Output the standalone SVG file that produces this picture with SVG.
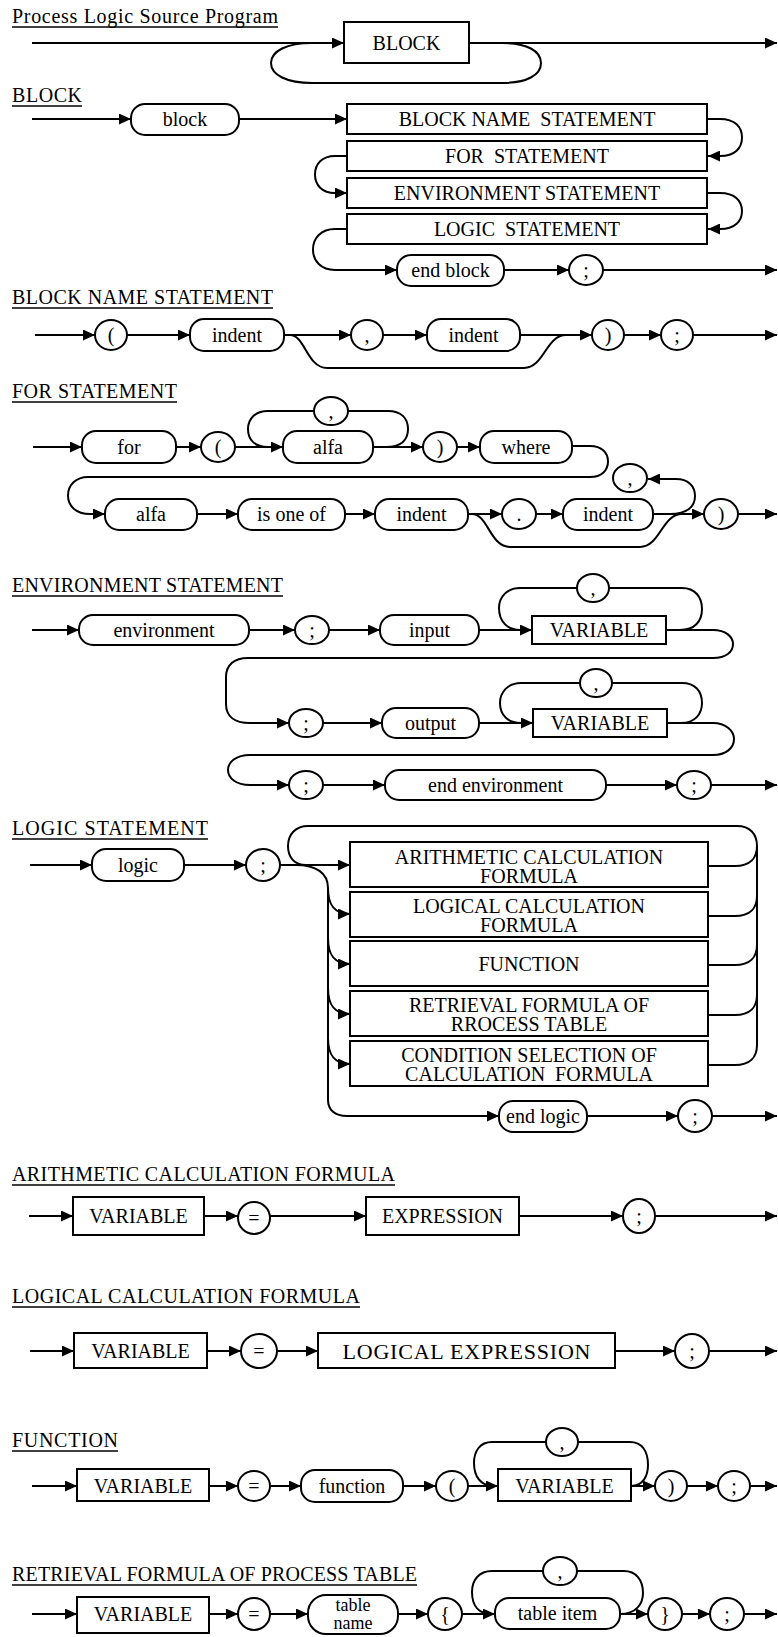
<svg xmlns="http://www.w3.org/2000/svg" width="778" height="1637" viewBox="0 0 778 1637">
<style>
  text { font-family: "Liberation Serif", "Times New Roman", serif; fill: #000; }
  .t { font-family: "Liberation Serif", "Times New Roman", serif; font-size: 20px; }
  .n { font-family: "Liberation Serif", "Times New Roman", serif; font-size: 20px; text-anchor: middle; }
  .sm { font-family: "Liberation Serif", "Times New Roman", serif; font-size: 18px; text-anchor: middle; }
  .c { font-family: "Liberation Serif", "Times New Roman", serif; font-size: 20px; text-anchor: middle; }
  .ul { stroke: #000; stroke-width: 1.5; }
  .ln { fill: none; stroke: #000; stroke-width: 2; }
  .a { marker-end: url(#ah); }
  .bx { fill: #fff; stroke: #000; stroke-width: 2; }
</style>
<defs>
  <marker id="ah" markerWidth="12" markerHeight="11" refX="12" refY="5.5" orient="auto" markerUnits="userSpaceOnUse">
    <path d="M0,0 L12,5.5 L0,11 z" fill="#000"/>
  </marker>
</defs>
<rect width="778" height="1637" fill="#fff"/>

<!-- section headings -->
<g id="headings">
  <text class="t" x="12" y="23" textLength="266" lengthAdjust="spacing">Process Logic Source Program</text>
  <line class="ul" x1="12" y1="27" x2="278" y2="27"/>
  <text class="t" x="12" y="102" textLength="70" lengthAdjust="spacing">BLOCK</text>
  <line class="ul" x1="12" y1="106" x2="82" y2="106"/>
  <text class="t" x="12" y="304" textLength="261" lengthAdjust="spacing">BLOCK NAME STATEMENT</text>
  <line class="ul" x1="12" y1="308" x2="273" y2="308"/>
  <text class="t" x="12" y="398" textLength="165" lengthAdjust="spacing">FOR STATEMENT</text>
  <line class="ul" x1="12" y1="402" x2="177" y2="402"/>
  <text class="t" x="12" y="592" textLength="271" lengthAdjust="spacing">ENVIRONMENT STATEMENT</text>
  <line class="ul" x1="12" y1="596" x2="283" y2="596"/>
  <text class="t" x="12" y="835" textLength="196" lengthAdjust="spacing">LOGIC STATEMENT</text>
  <line class="ul" x1="12" y1="839" x2="208" y2="839"/>
  <text class="t" x="12" y="1181" textLength="383" lengthAdjust="spacing">ARITHMETIC CALCULATION FORMULA</text>
  <line class="ul" x1="12" y1="1185" x2="395" y2="1185"/>
  <text class="t" x="12" y="1303" textLength="348" lengthAdjust="spacing">LOGICAL CALCULATION FORMULA</text>
  <line class="ul" x1="12" y1="1307" x2="360" y2="1307"/>
  <text class="t" x="12" y="1447" textLength="106" lengthAdjust="spacing">FUNCTION</text>
  <line class="ul" x1="12" y1="1451" x2="118" y2="1451"/>
  <text class="t" x="12" y="1581" textLength="405" lengthAdjust="spacing">RETRIEVAL FORMULA OF PROCESS TABLE</text>
  <line class="ul" x1="12" y1="1585" x2="417" y2="1585"/>
</g>

<!-- all connecting lines -->
<g id="connectors">
  <!-- program -->
  <path class="ln a" d="M32 43 H344"/>
  <path class="ln a" d="M469 43 H777"/>
  <path class="ln" d="M312 43 C287 43 271 51 271 63 C271 75 287 83 312 83 H502 C527 83 541 75 541 63 C541 51 527 43 502 43"/>
  <!-- block -->
  <path class="ln a" d="M32 119 H131"/>
  <path class="ln a" d="M239 119 H347"/>
  <path class="ln a" d="M707 119 H720 C735 119 742 127 742 137.5 C742 148 735 156 720 156 H708"/>
  <path class="ln a" d="M347 156 H335 C322 156 315 164 315 174.5 C315 185 322 193 335 193 H347"/>
  <path class="ln a" d="M707 193 H720 C735 193 742 201 742 211 C742 221 735 229 720 229 H708"/>
  <path class="ln a" d="M347 229 H335 C321 229 313 238 313 249.5 C313 261 321 270 335 270 H397"/>
  <path class="ln a" d="M504 270 H569"/>
  <path class="ln a" d="M603 270 H777"/>
  <!-- block name statement -->
  <path class="ln a" d="M35 335 H95"/>
  <path class="ln a" d="M127 335 H190"/>
  <path class="ln a" d="M284 335 H351"/>
  <path class="ln a" d="M383 335 H427"/>
  <path class="ln a" d="M520 335 H592"/>
  <path class="ln a" d="M624 335 H661"/>
  <path class="ln a" d="M693 335 H777"/>
  <path class="ln" d="M290 335 C305 335 307 368 327 368 H524 C544 368 546 335 566 335"/>
  <!-- for statement -->
  <path class="ln a" d="M33 447 H82"/>
  <path class="ln a" d="M176 447 H201"/>
  <path class="ln a" d="M235 447 H283"/>
  <path class="ln a" d="M373 447 H423"/>
  <path class="ln a" d="M457 447 H480"/>
  <path class="ln" d="M314 411 H268 C255 411 248 419 248 429 C248 440 255 447 268 447"/>
  <path class="ln" d="M386 447 C401 447 408 440 408 429 C408 418 401 411 388 411 H348"/>
  <path class="ln a" d="M572 446 H590 C602 446 608 453 608 461.5 C608 470 602 477 590 477 H88 C76 477 68 485 68 495.5 C68 506 76 514 90 514 H105"/>
  <path class="ln a" d="M197 514 H238"/>
  <path class="ln a" d="M345 514 H375"/>
  <path class="ln a" d="M468 514 H502"/>
  <path class="ln a" d="M536 514 H563"/>
  <path class="ln a" d="M653 514 H704"/>
  <path class="ln a" d="M738 514 H777"/>
  <path class="ln" d="M472 514 C488 514 490 547 510 547 H640 C660 547 662 514 682 514"/>
  <path class="ln a" d="M670 514 C688 514 695 506 695 496 C695 486 688 479 676 479 H648"/>
  <!-- environment statement -->
  <path class="ln a" d="M32 630 H79"/>
  <path class="ln a" d="M249 630 H295"/>
  <path class="ln a" d="M329 630 H380"/>
  <path class="ln a" d="M479 630 H532"/>
  <path class="ln" d="M577 588 H520 C507 588 499 597 499 608 C499 621 507 630 520 630"/>
  <path class="ln" d="M680 630 C695 630 702 621 702 609 C702 597 695 588 682 588 H609"/>
  <path class="ln a" d="M666 630 H713 C726 630 733 637 733 644 C733 652 726 658 713 658 H248 C234 658 226 665 226 677 V704 C226 716 234 723 250 723 H289"/>
  <path class="ln a" d="M323 723 H382"/>
  <path class="ln a" d="M479 723 H533"/>
  <path class="ln" d="M580 683 H521 C508 683 500 692 500 703 C500 715 508 723 521 723"/>
  <path class="ln" d="M681 723 C695 723 702 714 702 703 C702 691 695 683 682 683 H612"/>
  <path class="ln a" d="M667 723 H713 C726 723 734 731 734 739 C734 748 726 755 713 755 H250 C236 755 228 762 228 770 C228 778 236 785 250 785 H289"/>
  <path class="ln a" d="M323 785 H385"/>
  <path class="ln a" d="M606 785 H677"/>
  <path class="ln a" d="M711 785 H777"/>
  <!-- logic statement -->
  <path class="ln a" d="M30 865 H92"/>
  <path class="ln a" d="M184 865 H246"/>
  <path class="ln a" d="M280 865 H350"/>
  <path class="ln" d="M306 865 C294 865 288 857 288 846 C288 834 296 826 308 826 H737 C750 826 757 834 757 846 V1046"/>
  <path class="ln" d="M708 866 H735 C750 866 757 858 757 846"/>
  <path class="ln" d="M708 916 H735 C750 916 757 908 757 896"/>
  <path class="ln" d="M708 965 H735 C750 965 757 957 757 945"/>
  <path class="ln" d="M708 1015 H735 C750 1015 757 1007 757 995"/>
  <path class="ln" d="M708 1065 H735 C750 1065 757 1057 757 1045"/>
  <path class="ln a" d="M296 865 C316 865 328 873 328 888 V1100 C328 1110 335 1116 347 1116 H499"/>
  <path class="ln a" d="M328 888 C328 906 335 914 350 914"/>
  <path class="ln a" d="M328 938 C328 956 335 964 350 964"/>
  <path class="ln a" d="M328 988 C328 1006 335 1014 350 1014"/>
  <path class="ln a" d="M328 1038 C328 1056 335 1064 350 1064"/>
  <path class="ln a" d="M587 1116 H678"/>
  <path class="ln a" d="M712 1116 H777"/>
  <!-- arithmetic calculation formula -->
  <path class="ln a" d="M29 1216 H73"/>
  <path class="ln a" d="M204 1216 H238"/>
  <path class="ln a" d="M270 1216 H366"/>
  <path class="ln a" d="M519 1216 H623"/>
  <path class="ln a" d="M655 1216 H777"/>
  <!-- logical calculation formula -->
  <path class="ln a" d="M30 1351 H74"/>
  <path class="ln a" d="M207 1351 H241"/>
  <path class="ln a" d="M277 1351 H318"/>
  <path class="ln a" d="M615 1351 H675"/>
  <path class="ln a" d="M709 1351 H777"/>
  <!-- function -->
  <path class="ln a" d="M32 1486 H77"/>
  <path class="ln a" d="M209 1486 H238"/>
  <path class="ln a" d="M270 1486 H301"/>
  <path class="ln a" d="M403 1486 H436"/>
  <path class="ln a" d="M468 1486 H498"/>
  <path class="ln" d="M546 1442 H492 C480 1442 474 1451 474 1463 C474 1477 481 1486 494 1486"/>
  <path class="ln" d="M631 1486 C643 1486 648 1476 648 1465 C648 1451 642 1442 630 1442 H578"/>
  <path class="ln a" d="M631 1486 H655"/>
  <path class="ln a" d="M687 1486 H718"/>
  <path class="ln a" d="M750 1486 H777"/>
  <!-- retrieval formula of process table -->
  <path class="ln a" d="M32 1614 H77"/>
  <path class="ln a" d="M209 1614 H238"/>
  <path class="ln a" d="M270 1614 H308"/>
  <path class="ln a" d="M398 1614 H428"/>
  <path class="ln a" d="M462 1614 H495"/>
  <path class="ln" d="M543 1571 H492 C479 1571 472 1580 472 1592 C472 1606 479 1614 492 1614"/>
  <path class="ln" d="M620 1614 C636 1614 643 1604 643 1593 C643 1580 636 1571 624 1571 H577"/>
  <path class="ln a" d="M620 1614 H648"/>
  <path class="ln a" d="M682 1614 H710"/>
  <path class="ln a" d="M744 1614 H777"/>
</g>

<!-- Process Logic Source Program -->
<g id="prog-block"><rect class="bx" x="344" y="22" width="125" height="41"/><text class="n" x="406.5" y="50">BLOCK</text></g>

<!-- BLOCK -->
<g id="blk-kw"><rect class="bx" x="131" y="104" width="108" height="31" rx="14"/><text class="n" x="185" y="126">block</text></g>
<g id="blk-name"><rect class="bx" x="347" y="104" width="360" height="30"/><text class="n" x="527" y="126" style="white-space:pre">BLOCK NAME  STATEMENT</text></g>
<g id="blk-for"><rect class="bx" x="347" y="141" width="360" height="30"/><text class="n" x="527" y="163" style="white-space:pre">FOR  STATEMENT</text></g>
<g id="blk-env"><rect class="bx" x="347" y="178" width="360" height="30"/><text class="n" x="527" y="200">ENVIRONMENT STATEMENT</text></g>
<g id="blk-logic"><rect class="bx" x="347" y="214" width="360" height="30"/><text class="n" x="527" y="236" style="white-space:pre">LOGIC  STATEMENT</text></g>
<g id="blk-end"><rect class="bx" x="397" y="255" width="107" height="31" rx="14"/><text class="n" x="450.5" y="277">end block</text></g>
<g id="blk-semi"><ellipse class="bx" cx="586" cy="270" rx="17" ry="15"/><text class="c" x="586" y="277">;</text></g>

<!-- BLOCK NAME STATEMENT -->
<g id="bn-lp"><ellipse class="bx" cx="111" cy="335" rx="16" ry="15"/><text class="c" x="111" y="342">(</text></g>
<g id="bn-id1"><rect class="bx" x="190" y="319" width="94" height="32" rx="14"/><text class="n" x="237" y="342">indent</text></g>
<g id="bn-comma"><ellipse class="bx" cx="367" cy="335" rx="16" ry="15"/><text class="c" x="367" y="342">,</text></g>
<g id="bn-id2"><rect class="bx" x="427" y="319" width="93" height="32" rx="14"/><text class="n" x="473.5" y="342">indent</text></g>
<g id="bn-rp"><ellipse class="bx" cx="608" cy="335" rx="16" ry="15"/><text class="c" x="608" y="342">)</text></g>
<g id="bn-semi"><ellipse class="bx" cx="677" cy="335" rx="16" ry="15"/><text class="c" x="677" y="342">;</text></g>

<!-- FOR STATEMENT -->
<g id="for-kw"><rect class="bx" x="82" y="431" width="94" height="32" rx="14"/><text class="n" x="129" y="454">for</text></g>
<g id="for-lp"><ellipse class="bx" cx="218" cy="447" rx="17" ry="15"/><text class="c" x="218" y="454">(</text></g>
<g id="for-alfa1"><rect class="bx" x="283" y="431" width="90" height="32" rx="14"/><text class="n" x="328" y="454">alfa</text></g>
<g id="for-comma1"><ellipse class="bx" cx="331" cy="411" rx="17" ry="14"/><text class="c" x="331" y="418">,</text></g>
<g id="for-rp1"><ellipse class="bx" cx="440" cy="447" rx="17" ry="15"/><text class="c" x="440" y="454">)</text></g>
<g id="for-where"><rect class="bx" x="480" y="431" width="92" height="32" rx="14"/><text class="n" x="526" y="454">where</text></g>
<g id="for-comma2"><ellipse class="bx" cx="630" cy="478" rx="17" ry="14"/><text class="c" x="630" y="485">,</text></g>
<g id="for-alfa2"><rect class="bx" x="105" y="499" width="92" height="31" rx="14"/><text class="n" x="151" y="521">alfa</text></g>
<g id="for-isoneof"><rect class="bx" x="238" y="499" width="107" height="31" rx="14"/><text class="n" x="291.5" y="521">is one of</text></g>
<g id="for-id1"><rect class="bx" x="375" y="499" width="93" height="31" rx="14"/><text class="n" x="421.5" y="521">indent</text></g>
<g id="for-dot"><ellipse class="bx" cx="519" cy="514" rx="17" ry="15"/><text class="c" x="519" y="521">.</text></g>
<g id="for-id2"><rect class="bx" x="563" y="499" width="90" height="31" rx="14"/><text class="n" x="608" y="521">indent</text></g>
<g id="for-rp2"><ellipse class="bx" cx="721" cy="514" rx="17" ry="15"/><text class="c" x="721" y="521">)</text></g>

<!-- ENVIRONMENT STATEMENT -->
<g id="env-kw"><rect class="bx" x="79" y="615" width="170" height="30" rx="14"/><text class="n" x="164" y="637">environment</text></g>
<g id="env-semi1"><ellipse class="bx" cx="312" cy="630" rx="17" ry="14"/><text class="c" x="312" y="637">;</text></g>
<g id="env-input"><rect class="bx" x="380" y="615" width="99" height="30" rx="14"/><text class="n" x="429.5" y="637">input</text></g>
<g id="env-var1"><rect class="bx" x="532" y="616" width="134" height="28"/><text class="n" x="599" y="637">VARIABLE</text></g>
<g id="env-comma1"><ellipse class="bx" cx="593" cy="588" rx="16" ry="14"/><text class="c" x="593" y="595">,</text></g>
<g id="env-semi2"><ellipse class="bx" cx="306" cy="723" rx="17" ry="14"/><text class="c" x="306" y="730">;</text></g>
<g id="env-output"><rect class="bx" x="382" y="708" width="97" height="30" rx="14"/><text class="n" x="430.5" y="730">output</text></g>
<g id="env-var2"><rect class="bx" x="533" y="709" width="134" height="28"/><text class="n" x="600" y="730">VARIABLE</text></g>
<g id="env-comma2"><ellipse class="bx" cx="596" cy="683" rx="16" ry="14"/><text class="c" x="596" y="690">,</text></g>
<g id="env-semi3"><ellipse class="bx" cx="306" cy="785" rx="17" ry="14"/><text class="c" x="306" y="792">;</text></g>
<g id="env-end"><rect class="bx" x="385" y="770" width="221" height="30" rx="14"/><text class="n" x="495.5" y="792">end environment</text></g>
<g id="env-semi4"><ellipse class="bx" cx="694" cy="785" rx="17" ry="14"/><text class="c" x="694" y="792">;</text></g>

<!-- LOGIC STATEMENT -->
<g id="lg-kw"><rect class="bx" x="92" y="849" width="92" height="32" rx="14"/><text class="n" x="138" y="872">logic</text></g>
<g id="lg-semi"><ellipse class="bx" cx="263" cy="865" rx="17" ry="16"/><text class="c" x="263" y="872">;</text></g>
<g id="lg-arith"><rect class="bx" x="350" y="842" width="358" height="45"/><text class="n" x="529" y="864">ARITHMETIC CALCULATION</text><text class="n" x="529" y="883">FORMULA</text></g>
<g id="lg-logical"><rect class="bx" x="350" y="892" width="358" height="45"/><text class="n" x="529" y="913">LOGICAL CALCULATION</text><text class="n" x="529" y="932">FORMULA</text></g>
<g id="lg-func"><rect class="bx" x="350" y="941" width="358" height="45"/><text class="n" x="529" y="971">FUNCTION</text></g>
<g id="lg-retr"><rect class="bx" x="350" y="991" width="358" height="45"/><text class="n" x="529" y="1012">RETRIEVAL FORMULA OF</text><text class="n" x="529" y="1031">RROCESS TABLE</text></g>
<g id="lg-cond"><rect class="bx" x="350" y="1041" width="358" height="45"/><text class="n" x="529" y="1062">CONDITION SELECTION OF</text><text class="n" x="529" y="1081" style="white-space:pre">CALCULATION  FORMULA</text></g>
<g id="lg-end"><rect class="bx" x="499" y="1101" width="88" height="31" rx="14"/><text class="n" x="543" y="1123">end logic</text></g>
<g id="lg-semi2"><ellipse class="bx" cx="695" cy="1116" rx="17" ry="16"/><text class="c" x="695" y="1123">;</text></g>

<!-- ARITHMETIC CALCULATION FORMULA -->
<g id="ar-var"><rect class="bx" x="73" y="1197" width="131" height="38"/><text class="n" x="138.5" y="1223">VARIABLE</text></g>
<g id="ar-eq"><ellipse class="bx" cx="254" cy="1218" rx="16" ry="16"/><text class="c" x="254" y="1225">=</text></g>
<g id="ar-expr"><rect class="bx" x="366" y="1197" width="153" height="38"/><text class="n" x="442.5" y="1223">EXPRESSION</text></g>
<g id="ar-semi"><ellipse class="bx" cx="639" cy="1216" rx="16" ry="17"/><text class="c" x="639" y="1223">;</text></g>

<!-- LOGICAL CALCULATION FORMULA -->
<g id="lc-var"><rect class="bx" x="74" y="1333" width="133" height="35"/><text class="n" x="140.5" y="1358">VARIABLE</text></g>
<g id="lc-eq"><ellipse class="bx" cx="259" cy="1351" rx="18" ry="17"/><text class="c" x="259" y="1358">=</text></g>
<g id="lc-expr"><rect class="bx" x="318" y="1333" width="297" height="35"/><text class="n" x="466.5" y="1359" style="font-size:22px" textLength="248" lengthAdjust="spacing">LOGICAL EXPRESSION</text></g>
<g id="lc-semi"><ellipse class="bx" cx="692" cy="1351" rx="17" ry="17"/><text class="c" x="692" y="1358">;</text></g>

<!-- FUNCTION -->
<g id="fn-var1"><rect class="bx" x="77" y="1469" width="132" height="32"/><text class="n" x="143" y="1493">VARIABLE</text></g>
<g id="fn-eq"><ellipse class="bx" cx="254" cy="1486" rx="16" ry="15"/><text class="c" x="254" y="1493">=</text></g>
<g id="fn-kw"><rect class="bx" x="301" y="1470" width="102" height="32" rx="14"/><text class="n" x="352" y="1493">function</text></g>
<g id="fn-lp"><ellipse class="bx" cx="452" cy="1486" rx="16" ry="15"/><text class="c" x="452" y="1493">(</text></g>
<g id="fn-var2"><rect class="bx" x="498" y="1469" width="133" height="32"/><text class="n" x="564.5" y="1493">VARIABLE</text></g>
<g id="fn-comma"><ellipse class="bx" cx="562" cy="1442" rx="16" ry="14"/><text class="c" x="562" y="1449">,</text></g>
<g id="fn-rp"><ellipse class="bx" cx="671" cy="1486" rx="16" ry="15"/><text class="c" x="671" y="1493">)</text></g>
<g id="fn-semi"><ellipse class="bx" cx="734" cy="1486" rx="16" ry="15"/><text class="c" x="734" y="1493">;</text></g>

<!-- RETRIEVAL FORMULA OF PROCESS TABLE -->
<g id="rt-var"><rect class="bx" x="77" y="1597" width="132" height="36"/><text class="n" x="143" y="1621">VARIABLE</text></g>
<g id="rt-eq"><ellipse class="bx" cx="254" cy="1614" rx="16" ry="16"/><text class="c" x="254" y="1621">=</text></g>
<g id="rt-name"><rect class="bx" x="308" y="1595" width="90" height="39" rx="18"/><text class="sm" x="353" y="1611">table</text><text class="sm" x="353" y="1629">name</text></g>
<g id="rt-lb"><ellipse class="bx" cx="445" cy="1614" rx="17" ry="16"/><text class="c" x="445" y="1621">{</text></g>
<g id="rt-item"><rect class="bx" x="495" y="1598" width="125" height="31" rx="14"/><text class="n" x="557.5" y="1620">table item</text></g>
<g id="rt-comma"><ellipse class="bx" cx="560" cy="1571" rx="17" ry="14"/><text class="c" x="560" y="1578">,</text></g>
<g id="rt-rb"><ellipse class="bx" cx="665" cy="1614" rx="17" ry="16"/><text class="c" x="665" y="1621">}</text></g>
<g id="rt-semi"><ellipse class="bx" cx="727" cy="1614" rx="17" ry="16"/><text class="c" x="727" y="1621">;</text></g>
</svg>
